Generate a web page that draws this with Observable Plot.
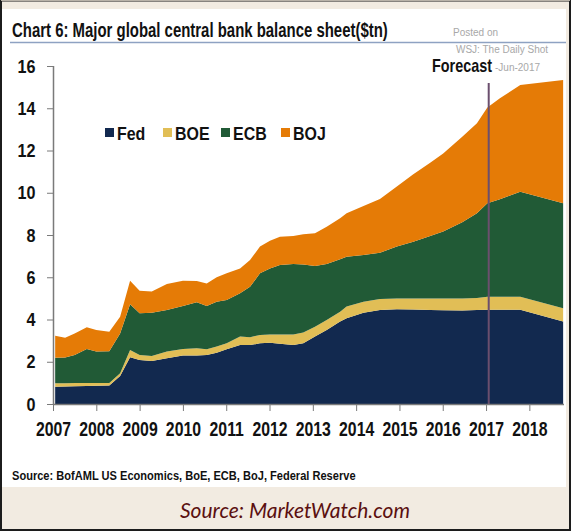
<!DOCTYPE html>
<html>
<head>
<meta charset="utf-8">
<script src="https://cdn.jsdelivr.net/npm/d3@7"></script>
<script src="https://cdn.jsdelivr.net/npm/@observablehq/plot@0.6"></script>
<style>
  html, body { margin: 0; padding: 0; background: #fff; }
  #page { position: relative; width: 571px; height: 531px; overflow: hidden; background: #f2ebe1; }
  #panel { position: absolute; left: 2px; top: 9px; width: 564px; height: 478px; background: #fff; }
  #plot { position: absolute; left: 0; top: 0; }
  #overlay { position: absolute; left: 0; top: 0; pointer-events: none; }
  .narrow { font-family: "Liberation Sans Narrow", "Arial Narrow", "Liberation Sans", Arial, sans-serif; font-weight: bold; }
</style>
</head>
<body>
<div id="page">
  <div id="panel"></div>
  <div id="plot"></div>
  <svg id="overlay" width="571" height="531"></svg>
</div>
<script>
// ---- data ----
const dates = [2007.05, 2007.28, 2007.5, 2007.78, 2008.0, 2008.3, 2008.55, 2008.78, 2009.0, 2009.28,
  2009.63, 2010.0, 2010.32, 2010.55, 2010.78, 2011.01, 2011.32, 2011.55, 2011.78, 2012.01,
  2012.24, 2012.55, 2012.78, 2013.05, 2013.32, 2013.63, 2013.78, 2014.17, 2014.55, 2014.94,
  2015.32, 2015.71, 2016.01, 2016.45, 2016.79, 2017.03, 2017.32, 2017.79, 2018.78];
const fed = [0.82, 0.83, 0.84, 0.85, 0.86, 0.87, 1.33, 2.21, 2.08, 2.04,
  2.16, 2.30, 2.30, 2.32, 2.43, 2.59, 2.79, 2.79, 2.87, 2.90,
  2.85, 2.79, 2.87, 3.19, 3.50, 3.90, 4.06, 4.32, 4.45, 4.48,
  4.47, 4.45, 4.44, 4.43, 4.45, 4.46, 4.46, 4.46, 3.90];
const boe = [0.16, 0.15, 0.15, 0.15, 0.14, 0.13, 0.12, 0.35, 0.24, 0.23,
  0.32, 0.30, 0.34, 0.27, 0.29, 0.28, 0.40, 0.37, 0.40, 0.39,
  0.44, 0.50, 0.51, 0.47, 0.48, 0.47, 0.55, 0.52, 0.52, 0.52,
  0.53, 0.55, 0.56, 0.57, 0.57, 0.62, 0.62, 0.62, 0.63];
const ecb = [1.21, 1.22, 1.33, 1.60, 1.48, 1.50, 1.89, 2.16, 1.97, 2.05,
  1.97, 2.04, 2.18, 2.05, 2.12, 2.05, 2.05, 2.39, 2.92, 3.13,
  3.29, 3.34, 3.22, 2.87, 2.65, 2.48, 2.36, 2.21, 2.19, 2.45,
  2.68, 2.95, 3.16, 3.60, 4.01, 4.42, 4.61, 4.97, 4.97];
const boj = [1.04, 0.94, 1.02, 1.03, 1.02, 0.92, 0.79, 1.12, 1.07, 1.00,
  1.23, 1.20, 1.00, 1.07, 1.16, 1.27, 1.18, 1.27, 1.26, 1.31,
  1.34, 1.32, 1.43, 1.55, 1.76, 1.94, 2.06, 2.32, 2.54, 2.84,
  3.19, 3.47, 3.70, 4.05, 4.26, 4.54, 4.78, 5.05, 5.84];
const seriesNames = ["Fed", "BOE", "ECB", "BOJ"];
const seriesColors = ["#12294f", "#e1be56", "#215a36", "#e57b06"];
const yTicks = [0, 2, 4, 6, 8, 10, 12, 14, 16];
const xTicks = [2007, 2008, 2009, 2010, 2011, 2012, 2013, 2014, 2015, 2016, 2017, 2018];
const xDomain = [2007, 2018.8];
const yDomain = [0, 16];
const forecastYear = 2017.05;
const forecastTop = 15.2;

const titleText = "Chart 6: Major global central bank balance sheet($tn)";
const sourceText = "Source: BofAML US Economics, BoE, ECB, BoJ, Federal Reserve";
const footerText = "Source: MarketWatch.com";

// ---- build table ----
const seriesValues = [fed, boe, ecb, boj];
const rows = [];
seriesValues.forEach((arr, i) => arr.forEach((v, j) => rows.push({series: seriesNames[i], date: dates[j], value: v})));

const axisColor = "#7a7a7a";
const chart = Plot.plot({
  width: 571,
  height: 487,
  marginLeft: 53,
  marginRight: 7,
  marginTop: 66,
  marginBottom: 83,
  style: {background: "transparent", color: "#111", fontFamily: '"Liberation Sans Narrow", "Arial Narrow", "Liberation Sans", Arial, sans-serif'},
  x: {domain: xDomain},
  y: {domain: yDomain},
  color: {domain: seriesNames, range: seriesColors},
  marks: [
    Plot.areaY(rows, {x: "date", y: "value", fill: "series", z: "series", order: seriesNames, curve: "linear"}),
    Plot.ruleX([forecastYear], {y1: 0, y2: forecastTop, stroke: "#6b4f6e", strokeWidth: 2}),
    Plot.ruleY([0], {stroke: axisColor, strokeWidth: 1.5}),
    Plot.ruleX([xDomain[0]], {stroke: axisColor, strokeWidth: 1.5}),
    Plot.axisY({ticks: yTicks, tickSize: 6, tickPadding: 12, stroke: axisColor, fontSize: 19, fontWeight: "bold", label: null}),
    Plot.axisX({ticks: xTicks, tickSize: 7, tickPadding: 10, tickFormat: d => String(d), stroke: axisColor, fontSize: 20, fontWeight: "bold", label: null})
  ]
});
document.getElementById("plot").appendChild(chart);

// condense text (no narrow face installed): squeeze glyphs horizontally with a scale transform
function condense(node, factor, target) {
  const w = node.getComputedTextLength();
  if (!w) return;
  const f = target != null ? target / w : factor;
  const x = +node.getAttribute("x") || 0;
  const y = +node.getAttribute("y") || 0;
  const prev = node.getAttribute("transform") || "";
  if (node.hasAttribute("x")) node.setAttribute("x", 0);
  if (node.hasAttribute("y") && !isNaN(+node.getAttribute("y"))) node.setAttribute("y", 0);
  const ty = isNaN(+node.getAttribute("y")) ? 0 : y;
  node.setAttribute("transform", `${prev} translate(${x},${ty}) scale(${f},1)`);
}
d3.select(chart).selectAll('g[aria-label="y-axis tick label"] text').each(function() { condense(this, 0.85); });
d3.select(chart).selectAll('g[aria-label="x-axis tick label"] text').each(function() { condense(this, 0.79); });

// ---- overlay: frame, title, notes, legend, sources ----
const ov = d3.select("#overlay");
ov.append("rect").attr("x", 1).attr("y", 0.5).attr("width", 569).attr("height", 529.5)
  .attr("fill", "none").attr("stroke", "#1c1c1c").attr("stroke-width", 2);
ov.append("line").attr("x1", 1).attr("x2", 570).attr("y1", 0.5).attr("y2", 0.5).attr("stroke", "#b9b2a8").attr("stroke-width", 1);
// title
const title = ov.append("text").attr("class", "narrow").attr("x", 12).attr("y", 37).attr("font-size", 20).attr("fill", "#111").text(titleText);
condense(title.node(), 1, 376);
ov.append("line").attr("x1", 10).attr("x2", 566).attr("y1", 42.5).attr("y2", 42.5).attr("stroke", "#8ea2c2").attr("stroke-width", 1.5);
// posted note
const note = ov.append("g").attr("font-family", '"Liberation Sans", Arial, sans-serif').attr("font-size", 10).attr("fill", "#a8a8a8");
note.append("text").attr("x", 453).attr("y", 36).text("Posted on");
note.append("text").attr("x", 456).attr("y", 53).text("WSJ: The Daily Shot");
note.append("text").attr("x", 495).attr("y", 71).text("-Jun-2017");
// forecast label
const fc = ov.append("text").attr("class", "narrow").attr("x", 432).attr("y", 72).attr("font-size", 18).attr("fill", "#111").text("Forecast");
condense(fc.node(), 1, 60);
// legend
const legendX = [105, 163, 221, 281];
const lg = ov.append("g");
seriesNames.forEach((name, i) => {
  lg.append("rect").attr("x", legendX[i]).attr("y", 128).attr("width", 9).attr("height", 9).attr("fill", seriesColors[i]);
  const t = lg.append("text").attr("class", "narrow").attr("x", legendX[i] + 12).attr("y", 139.5).attr("font-size", 19).attr("fill", "#111").text(name);
  condense(t.node(), 0.84);
});
// source
const src = ov.append("text").attr("class", "narrow").attr("x", 12).attr("y", 480).attr("font-size", 13).attr("fill", "#111").text(sourceText);
condense(src.node(), 1, 344);
ov.append("text").attr("x", 295).attr("y", 518).attr("text-anchor", "middle")
  .attr("font-family", 'Lato, "Open Sans", sans-serif').attr("font-style", "italic").attr("font-size", 21)
  .attr("fill", "#5b1010").text(footerText);
</script>
</body>
</html>
